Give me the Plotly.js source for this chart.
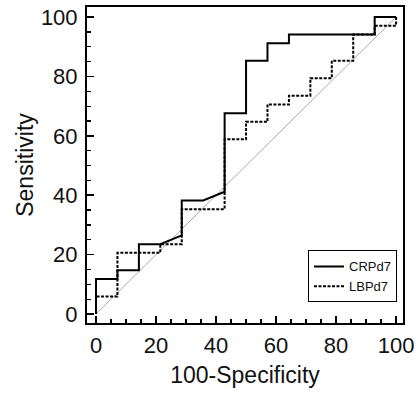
<!DOCTYPE html>
<html>
<head>
<meta charset="utf-8">
<script src="https://cdn.plot.ly/plotly-3.0.1.min.js"></script>
<style>html,body{margin:0;padding:0;background:#fff;}#chart{width:416px;height:394px;}</style>
</head>
<body>
<div id="chart"></div>
<script>
// ROC data: 100-Specificity (x) and Sensitivity (y), in %
var crpX = [0, 0, 7.14, 7.14, 14.29, 14.29, 21.43, 28.57, 28.57, 35.71, 42.86, 42.86, 50, 50, 57.14, 57.14, 64.29, 64.29, 92.86, 92.86, 100];
var crpY = [0, 11.76, 11.76, 14.71, 14.71, 23.53, 23.53, 26.47, 38.24, 38.24, 41.18, 67.65, 67.65, 85.29, 85.29, 91.18, 91.18, 94.12, 94.12, 100, 100];
var lbpX = [0, 0, 7.14, 7.14, 21.43, 21.43, 28.57, 28.57, 42.86, 42.86, 50, 50, 57.14, 57.14, 64.29, 64.29, 71.43, 71.43, 78.57, 78.57, 85.71, 85.71, 92.86, 92.86, 100, 100];
var lbpY = [0, 5.88, 5.88, 20.59, 20.59, 23.53, 23.53, 35.29, 35.29, 58.82, 58.82, 64.71, 64.71, 70.59, 70.59, 73.53, 73.53, 79.41, 79.41, 85.29, 85.29, 94.12, 94.12, 97.06, 97.06, 100];
var refX = [0, 100];
var refY = [0, 100];
var seriesNames = ["CRPd7", "LBPd7"];
var tickVals = [0, 20, 40, 60, 80, 100];

var traces = [
  {x: refX, y: refY, mode: "lines", line: {color: "#aaaaaa", width: 1}, showlegend: false, hoverinfo: "skip"},
  {x: crpX, y: crpY, mode: "lines", name: seriesNames[0], line: {color: "#000", width: 2}},
  {x: lbpX, y: lbpY, mode: "lines", name: seriesNames[1], line: {color: "#000", width: 2, dash: "3px,1.5px"}}
];

var fontFam = "Liberation Sans, Arial, sans-serif";
var axisCommon = {
  showgrid: false, zeroline: false,
  showline: true, linecolor: "#000", linewidth: 2, mirror: true,
  ticks: "inside", ticklen: 7, tickwidth: 1.5, tickcolor: "#000",
  tickvals: tickVals,
  tickfont: {family: fontFam, size: 22, color: "#111"},
  minor: {dtick: 5, ticks: "inside", ticklen: 4, tickwidth: 1.2, tickcolor: "#000"}
};

var layout = {
  width: 416, height: 394,
  margin: {l: 87, r: 13, t: 7, b: 71},
  paper_bgcolor: "#fff", plot_bgcolor: "#fff",
  font: {family: fontFam, color: "#111"},
  xaxis: Object.assign({}, axisCommon, {
    range: [-3, 102.3],
    ticklabelstandoff: 2,
    title: {text: "100-Specificity", font: {family: fontFam, size: 23, color: "#111"}, standoff: 9}
  }),
  yaxis: Object.assign({}, axisCommon, {
    range: [-3.03, 103.4],
    ticklabelstandoff: 3,
    title: {text: "Sensitivity", font: {family: fontFam, size: 23, color: "#111"}, standoff: 1}
  }),
  legend: {
    x: 0.981, y: 0.065, xanchor: "right", yanchor: "bottom",
    bgcolor: "#fff", bordercolor: "#000", borderwidth: 1,
    font: {family: fontFam, size: 13, color: "#111"},
    tracegroupgap: 0, itemwidth: 30
  },
  showlegend: true
};

Plotly.newPlot("chart", traces, layout, {displayModeBar: false, staticPlot: true});
</script>
</body>
</html>
